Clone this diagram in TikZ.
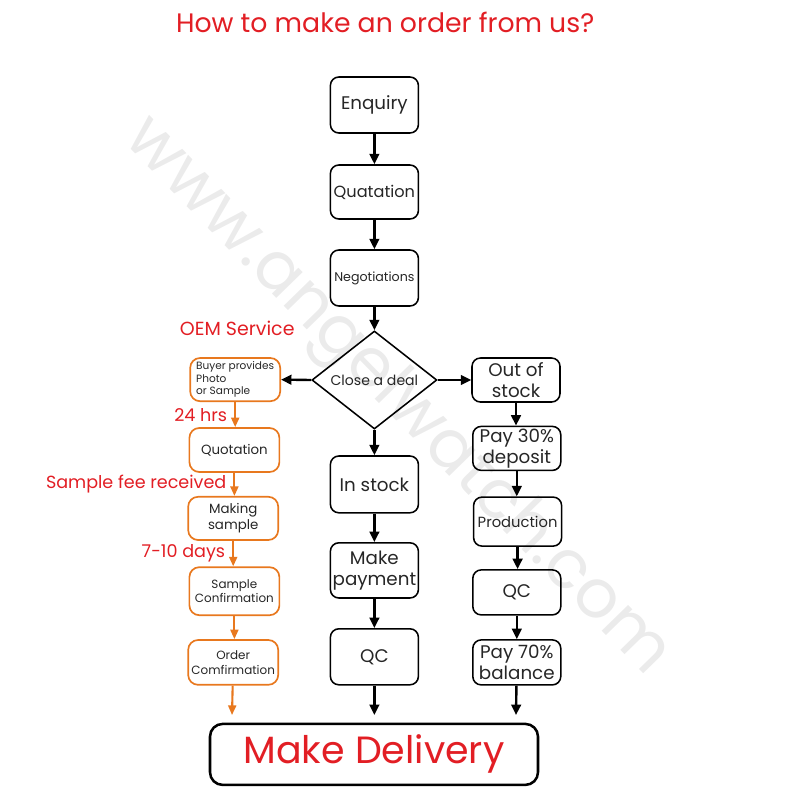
\documentclass[tikz,border=0pt]{standalone}
\usepackage{fontspec}
\setmainfont{Poppins}
\usetikzlibrary{shapes.geometric,arrows.meta}
\definecolor{ordred}{RGB}{226,30,36}
\definecolor{ordorange}{RGB}{232,120,30}
\tikzset{
  box/.style={draw, line width=1.1pt, rounded corners=6pt, minimum width=2.2cm,
    minimum height=1.1cm, align=center, inner sep=1pt, text=black!85},
  obox/.style={box, draw=ordorange, line width=1.2pt, rounded corners=7pt, minimum width=2.25cm},
  arr/.style={line width=1.7pt, -{Triangle[length=2.6mm,width=2.4mm]}},
  oarr/.style={ordorange, line width=1.5pt, -{Triangle[length=2.4mm,width=2mm]}},
  lbl/.style={text=ordred, font=\fontsize{12.5}{15}\selectfont, inner sep=2pt, xshift=-3pt}
}
\begin{document}
\begin{tikzpicture}
        \useasboundingbox (0,0) rectangle (20,-20);
        % --- Watermark ---
        \node[text=black!8, rotate=-45.7, font=\fontsize{48}{52}\selectfont] at (9.9,-9.95) {www.angelwatch.com};
        % --- Title ---
        \node[text=ordred, font=\fontsize{19}{23}\selectfont] (title) at (9.63,-0.55) {How to make an order from us?};
        % --- Main column ---
        \node[box, minimum height=1.4cm, font=\fontsize{13}{15}\selectfont] (enquiry) at (9.36,-2.625) {Enquiry};
        \node[box, minimum height=1.35cm, font=\fontsize{11.5}{13}\selectfont] (quatation) at (9.36,-4.8) {Quatation};
        \node[box, minimum height=1.4cm, font=\fontsize{9}{11}\selectfont] (negot) at (9.36,-6.95) {Negotiations};
        \node[draw, diamond, line width=1.1pt, minimum width=3.125cm, minimum height=2.2cm, inner sep=0pt,
              font=\fontsize{10}{12}\selectfont, text=black!85] (deal) at (9.36,-9.5) {Close a deal};
        \node[box, minimum height=1.42cm, font=\fontsize{13}{15}\selectfont] (instock) at (9.36,-12.11) {In stock};
        \node[box, minimum height=1.38cm, font=\fontsize{13}{15}\selectfont] (payment) at (9.36,-14.26) {Make\\payment};
        \node[box, minimum height=1.4cm, font=\fontsize{13}{15}\selectfont] (qcmain) at (9.36,-16.42) {QC};
        % --- Out of stock column ---
        \node[box, font=\fontsize{13}{15}\selectfont] (outstock) at (12.9,-9.5) {Out of\\stock};
        \node[box, font=\fontsize{13}{15}\selectfont] (deposit) at (12.92,-11.21) {Pay 30\%\\deposit};
        \node[box, minimum height=1.225cm, font=\fontsize{10.5}{12}\selectfont] (production) at (12.94,-13.04) {Production};
        \node[box, minimum height=1.125cm, font=\fontsize{13}{15}\selectfont] (qcout) at (12.92,-14.81) {QC};
        \node[box, minimum height=1.125cm, font=\fontsize{13}{15}\selectfont] (balance) at (12.92,-16.56) {Pay 70\%\\balance};
        % --- OEM column ---
        \node[text=ordred, font=\fontsize{13.5}{16}\selectfont] (oem) at (5.93,-8.2) {OEM Service};
        \node[obox, minimum height=1.08cm, align=left, font=\fontsize{7.5}{9}\selectfont] (buyer) at (5.88,-9.49) {Buyer provides\\Photo\\or Sample};
        \node[obox, minimum height=1.1cm, font=\fontsize{9.5}{11.5}\selectfont] (oquot) at (5.86,-11.25) {Quotation};
        \node[obox, minimum height=1.08cm, font=\fontsize{9.5}{11.5}\selectfont] (making) at (5.83,-12.96) {Making\\sample};
        \node[obox, minimum height=1.2cm, font=\fontsize{8.5}{10.5}\selectfont] (sampconf) at (5.86,-14.78) {Sample\\Confirmation};
        \node[obox, minimum height=1.12cm, font=\fontsize{8.5}{10.5}\selectfont] (ordconf) at (5.83,-16.56) {Order\\Comfirmation};
        % --- Delivery ---
        \node[draw, line width=1.8pt, rounded corners=9pt, minimum width=8.2cm, minimum height=1.525cm,
              text=ordred, font=\fontsize{27}{31}\selectfont] (delivery) at (9.35,-18.86) {Make Delivery};
        \coordinate (endmain) at (9.36,-17.875);
        \coordinate (endout) at (12.9,-17.875);
        \coordinate (endoem) at (5.8,-17.875);
        % --- Main arrows ---
        \draw[arr] (enquiry) -- (quatation);
        \draw[arr] (quatation) -- (negot);
        \draw[arr] (negot) -- (deal);
        \draw[arr] (deal) -- (instock);
        \draw[arr] (instock) -- (payment);
        \draw[arr] (payment) -- (qcmain);
        \draw[arr] (qcmain) -- (endmain);
        \draw[arr] (deal.east) -- (outstock.west);
        \draw[arr] (deal.west) -- (buyer.east);
        % --- Out of stock arrows ---
        \draw[arr] (outstock) -- (outstock |- deposit.north);
        \draw[arr] (deposit) -- (deposit |- production.north);
        \draw[arr] (production) -- (production |- qcout.north);
        \draw[arr] (qcout) -- (qcout |- balance.north);
        \draw[arr] (balance) -- (endout);
        % --- OEM arrows ---
        \draw[oarr] (buyer) -- node[lbl, left] {24 hrs} (buyer |- oquot.north);
        \draw[oarr] (oquot) -- node[lbl, left] {Sample fee received} (oquot |- making.north);
        \draw[oarr] (making) -- node[lbl, left] {7-10 days} (making |- sampconf.north);
        \draw[oarr] (sampconf) -- (sampconf |- ordconf.north);
        \draw[oarr] (ordconf) -- (endoem);
\end{tikzpicture}
\end{document}
